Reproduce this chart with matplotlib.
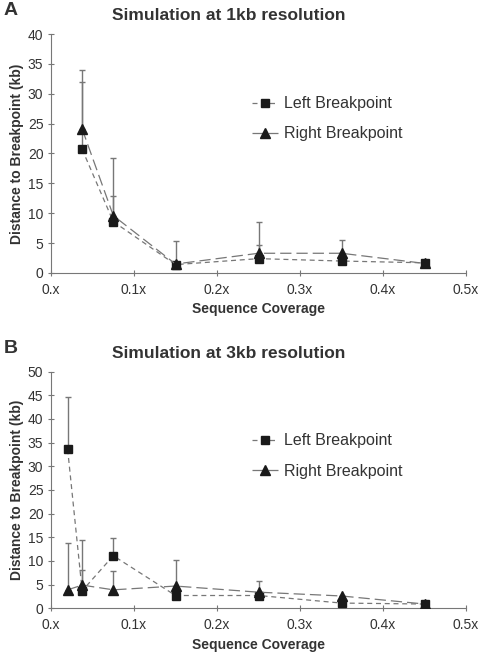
import matplotlib.pyplot as plt

plt.rcParams['font.family'] = ['Liberation Sans', 'DejaVu Sans']

# panel A: 1kb resolution
cov_a = [0.0375, 0.075, 0.15, 0.25, 0.35, 0.45]
left_a = [20.7, 8.6, 1.4, 2.4, 2.0, 1.7]
right_a = [24.1, 9.6, 1.5, 3.3, 3.3, 1.6]
left_a_err = [11.2, 4.3, 3.9, 2.3, 0.0, 0.0]
right_a_err = [9.9, 9.6, 0.0, 5.2, 2.3, 0.0]

# panel B: 3kb resolution
cov_b = [0.02, 0.0375, 0.075, 0.15, 0.25, 0.35, 0.45]
left_b = [33.6, 3.7, 11.1, 2.7, 2.7, 1.1, 0.9]
right_b = [3.9, 4.9, 3.9, 4.7, 3.4, 2.6, 0.9]
left_b_err = [11.1, 4.4, 3.8, 0.0, 0.0, 0.0, 0.0]
right_b_err = [10.0, 9.5, 3.9, 5.4, 2.4, 0.0, 0.0]

xticks = [0, 0.1, 0.2, 0.3, 0.4, 0.5]
xticklabels = ['0.x', '0.1x', '0.2x', '0.3x', '0.4x', '0.5x']

grey = '#777777'
text_c = '#333333'


def draw_panel(ax, x, left, right, lerr, rerr, ymax, title, letter, leg_y):
    ax.errorbar(x, left, yerr=[[0] * len(lerr), lerr], fmt='none', ecolor=grey,
                elinewidth=1.0, capsize=2.5, capthick=1.0, zorder=1)
    ax.errorbar(x, right, yerr=[[0] * len(rerr), rerr], fmt='none', ecolor=grey,
                elinewidth=1.0, capsize=2.5, capthick=1.0, zorder=1)
    ax.plot(x, left, color=grey, linestyle=(0, (4, 3)), linewidth=0.9,
            marker='s', markersize=6, markerfacecolor='#1a1a1a',
            markeredgecolor='#1a1a1a', label='Left Breakpoint', zorder=3)
    ax.plot(x, right, color=grey, linestyle=(0, (9, 4)), linewidth=0.9,
            marker='^', markersize=7, markerfacecolor='#1a1a1a',
            markeredgecolor='#1a1a1a', label='Right Breakpoint', zorder=3)
    ax.set_xlim(0, 0.5)
    ax.set_ylim(0, ymax)
    ax.set_yticks(range(0, ymax + 1, 5))
    ax.set_xticks(xticks)
    ax.set_xticklabels(xticklabels)
    for s in ['top', 'right']:
        ax.spines[s].set_visible(False)
    for s in ['left', 'bottom']:
        ax.spines[s].set_color(grey)
    ax.tick_params(colors=grey, labelcolor=text_c, labelsize=10, length=4,
                   width=0.8, direction='inout')
    ax.tick_params(axis='x', pad=5)
    ax.set_xlabel('Sequence Coverage', fontsize=10, fontweight='bold',
                  color=text_c, labelpad=4)
    ax.set_ylabel('Distance to Breakpoint (kb)', fontsize=10,
                  fontweight='bold', color=text_c, labelpad=3)
    ax.set_title(title, fontsize=12.5, fontweight='bold', color=text_c,
                 x=0.429, pad=10)
    ax.text(-0.115, 1.1, letter, transform=ax.transAxes, fontsize=14,
            fontweight='bold', color=text_c, va='center', ha='left')
    ax.legend(loc='upper left', bbox_to_anchor=(0.45, leg_y), frameon=False,
              fontsize=11.5, handlelength=1.6, handletextpad=0.4,
              labelspacing=0.95, labelcolor=text_c)


fig = plt.figure(figsize=(4.86, 6.54), dpi=100)
ax_a = fig.add_axes([0.105, 0.5826, 0.854, 0.3654])
ax_b = fig.add_axes([0.105, 0.0699, 0.854, 0.3618])

draw_panel(ax_a, cov_a, left_a, right_a, left_a_err, right_a_err, 40,
           'Simulation at 1kb resolution', 'A', 0.8)
draw_panel(ax_b, cov_b, left_b, right_b, left_b_err, right_b_err, 50,
           'Simulation at 3kb resolution', 'B', 0.8)

fig.savefig('out.png', dpi=100)
plt.close(fig)
